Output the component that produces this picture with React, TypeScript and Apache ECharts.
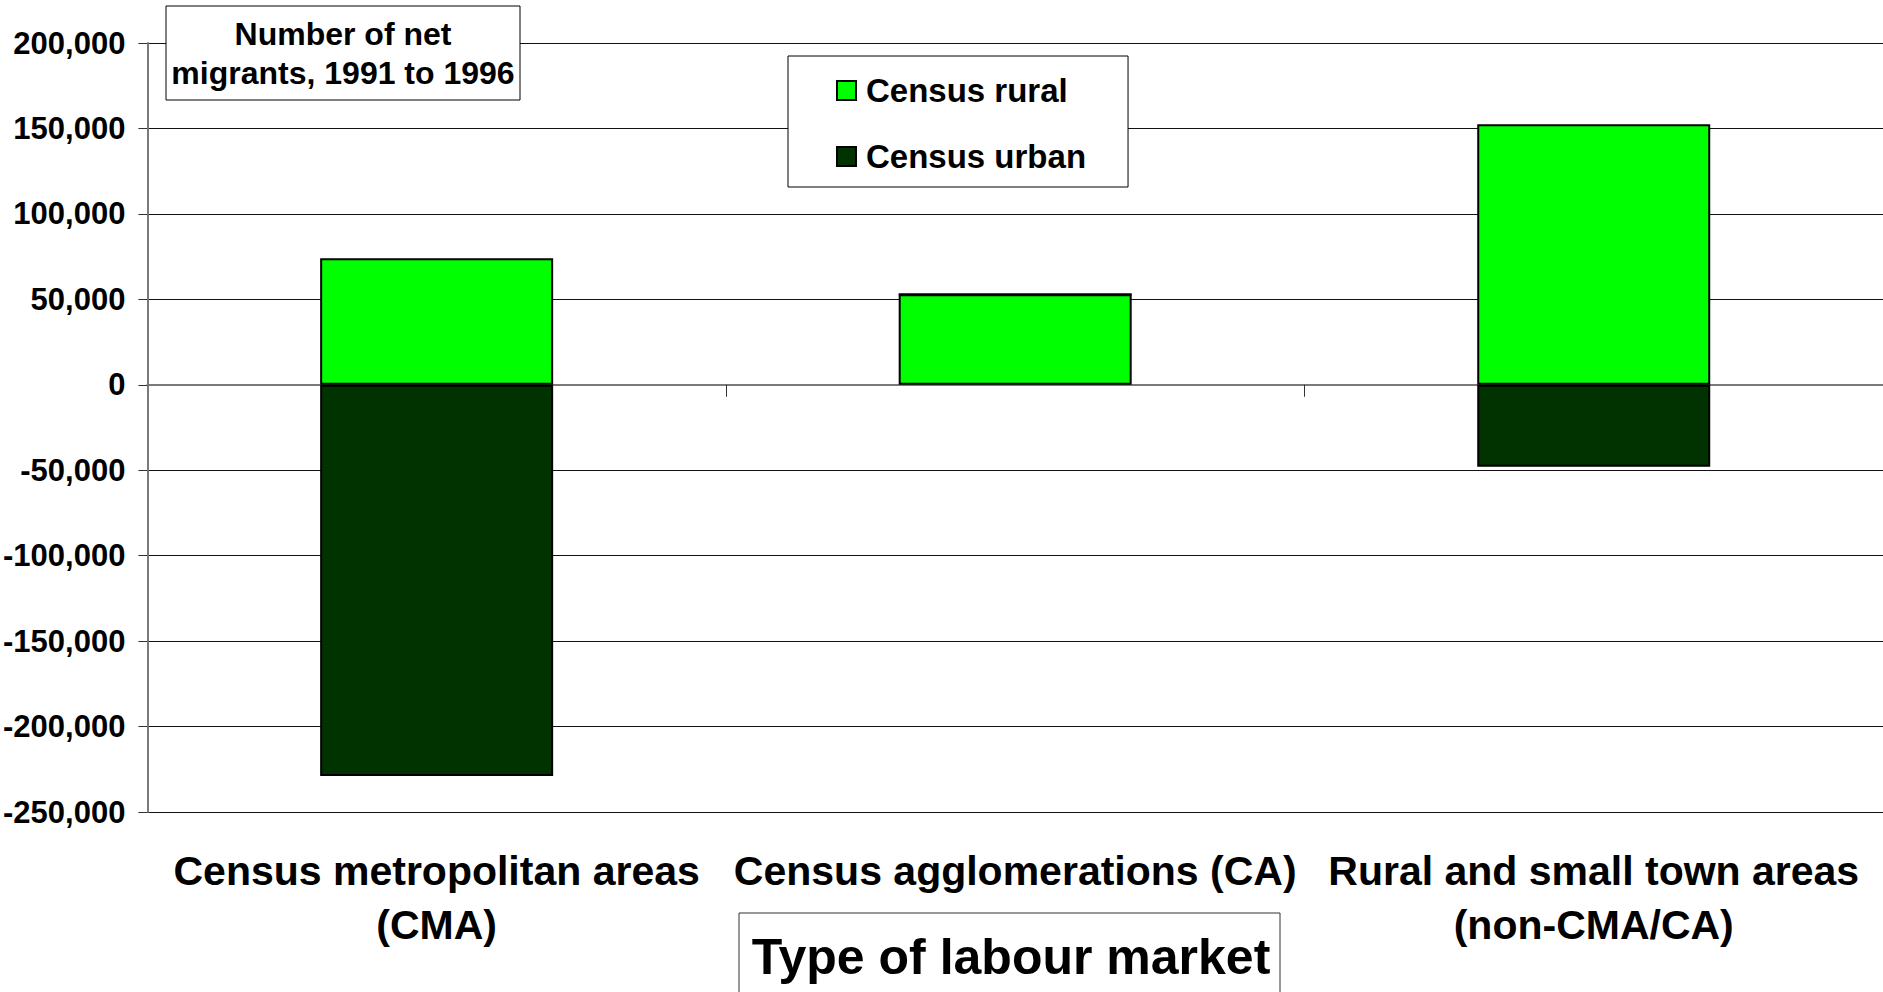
import React, { useEffect, useRef } from "react";
import * as echarts from "echarts";

const categories = [
  "Census metropolitan areas\n(CMA)",
  "Census agglomerations (CA)",
  "Rural and small town areas\n(non-CMA/CA)",
];
const ruralValues = [74000, 53000, 152500];
const urbanValues = [-229000, 0, -48000];
const yMin = -250000;
const yMax = 200000;
const yInterval = 50000;
const seriesNames = ["Census rural", "Census urban"];
const titleLines = ["Number of net", "migrants, 1991 to 1996"];
const xAxisTitle = "Type of labour market";

const FONT = "'Liberation Sans', Arial, Helvetica, sans-serif";

export default function App() {
  const ref = useRef<HTMLDivElement>(null);

  useEffect(() => {
    document.body.style.margin = "0";
    document.body.style.overflow = "hidden";
    if (!ref.current) return;
    const chart = echarts.init(ref.current, undefined, { renderer: "svg" });

    const option: any = {
      animation: false,
      backgroundColor: "#fff",
      grid: [{ left: 147, width: 1741, top: 43, height: 769 }],
      xAxis: [
        {
          type: "category",
          gridIndex: 0,
          data: categories,
          axisLine: { show: true, onZero: true, lineStyle: { color: "#7a7a7a", width: 2 } },
          axisTick: {
            show: true,
            length: 12,
            interval: (i: number) => i > 0,
            lineStyle: { color: "#333", width: 1 },
          },
          axisLabel: { show: false },
          splitLine: { show: false },
        },
        {
          type: "category",
          gridIndex: 0,
          data: categories,
          position: "bottom",
          axisLine: { show: false, onZero: false },
          axisTick: { show: false },
          axisLabel: {
            show: true,
            interval: 0,
            margin: 32,
            color: "#000",
            fontFamily: FONT,
            fontWeight: "bold",
            fontSize: 41,
            lineHeight: 54,
            align: "center",
          },
          splitLine: { show: false },
        },
      ],
      yAxis: [
        {
          type: "value",
          gridIndex: 0,
          min: yMin,
          max: yMax,
          interval: yInterval,
          axisLine: { show: true, lineStyle: { color: "#7a7a7a", width: 2 } },
          axisTick: { show: true, inside: false, length: 9, lineStyle: { color: "#333" } },
          axisLabel: {
            margin: 22,
            color: "#000",
            fontFamily: FONT,
            fontWeight: "bold",
            fontSize: 31,
            formatter: (v: number) => v.toLocaleString("en-US"),
          },
          splitLine: { show: true, lineStyle: { color: "#111", width: 1 } },
        },
      ],
      legend: {
        data: [seriesNames[0], seriesNames[1]],
        orient: "vertical",
        left: 788,
        top: 56,
        padding: [18, 42, 14, 48],
        itemGap: 33,
        itemWidth: 19,
        itemHeight: 19,
        icon: "rect",
        borderColor: "#000",
        borderWidth: 1,
        backgroundColor: "#fff",
        textStyle: {
          fontFamily: FONT,
          fontWeight: "bold",
          fontSize: 33,
          color: "#000",
          padding: [0, 0, 0, 5],
        },
      },
      series: [
        {
          name: seriesNames[0],
          type: "bar",
          stack: "total",
          data: ruralValues,
          barWidth: 233,
          itemStyle: { color: "#00ff00", borderColor: "#000", borderWidth: 2 },
        },
        {
          name: seriesNames[1],
          type: "bar",
          stack: "total",
          data: urbanValues,
          barWidth: 233,
          itemStyle: { color: "#003300", borderColor: "#000", borderWidth: 2 },
        },
      ],
      graphic: [
        {
          type: "group",
          z: 100,
          children: [
            {
              type: "rect",
              z: 100,
              shape: { x: 166, y: 6, width: 354, height: 94 },
              style: { fill: "#fff", stroke: "#000", lineWidth: 1 },
            },
            {
              type: "text",
              z: 101,
              x: 343,
              y: 34,
              style: {
                text: titleLines[0],
                fontFamily: FONT,
                fontWeight: "bold",
                fontSize: 32,
                fill: "#000",
                align: "center",
                verticalAlign: "middle",
              },
            },
            {
              type: "text",
              z: 101,
              x: 343,
              y: 73,
              style: {
                text: titleLines[1],
                fontFamily: FONT,
                fontWeight: "bold",
                fontSize: 32,
                fill: "#000",
                align: "center",
                verticalAlign: "middle",
              },
            },
            {
              type: "rect",
              z: 100,
              shape: { x: 739, y: 913, width: 541, height: 100 },
              style: { fill: "#fff", stroke: "#333", lineWidth: 1 },
            },
            {
              type: "text",
              z: 101,
              x: 1011,
              y: 957,
              style: {
                text: xAxisTitle,
                fontFamily: FONT,
                fontWeight: "bold",
                fontSize: 50,
                fill: "#000",
                align: "center",
                verticalAlign: "middle",
              },
            },
          ],
        },
      ],
    };

    chart.setOption(option);
    return () => {
      chart.dispose();
    };
  }, []);

  return (
    <div
      ref={ref}
      style={{ position: "fixed", left: 0, top: 0, width: 1883, height: 992 }}
    />
  );
}
